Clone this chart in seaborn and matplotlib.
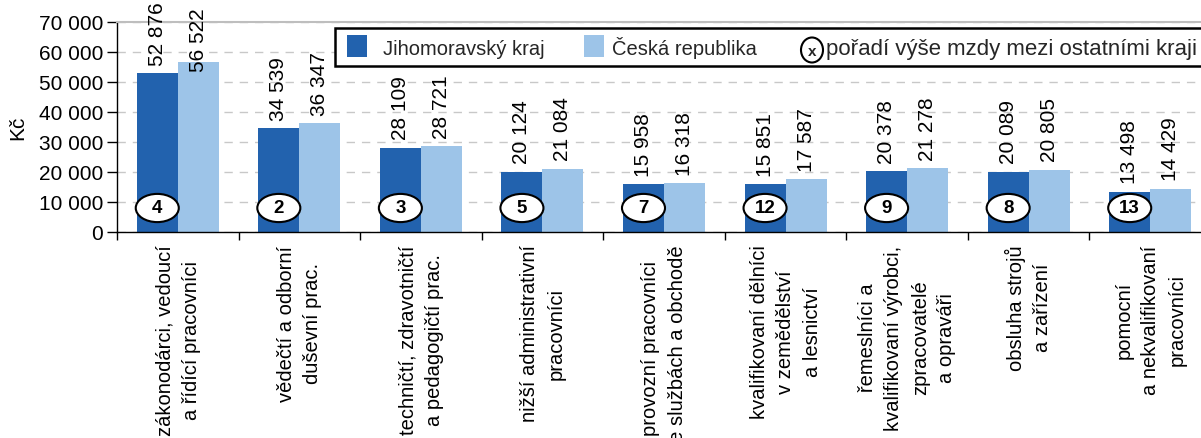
import matplotlib
matplotlib.use("Agg")
import matplotlib.pyplot as plt
from matplotlib.patches import Ellipse, Rectangle
import pandas as pd
import seaborn as sns

sns.set_theme(style="white")
plt.rcParams["font.family"] = ["Liberation Sans", "DejaVu Sans"]
plt.rcParams["ytick.labelsize"] = 15
plt.rcParams["xtick.labelsize"] = 14.5

# data
kategorie = [
    "zákonodárci, vedoucí\na řídící pracovníci",
    "vědečtí a odborní\nduševní prac.",
    "techničtí, zdravotničtí\na pedagogičtí prac.",
    "nižší administrativní\npracovníci",
    "provozní pracovníci\nve službách a obchodě",
    "kvalifikovaní dělníci\nv zemědělství\na lesnictví",
    "řemeslníci a\nkvalifikovaní výrobci,\nzpracovatelé\na opraváři",
    "obsluha strojů\na zařízení",
    "pomocní\na nekvalifikovaní\npracovníci",
]
jihomoravsky = [52876, 34539, 28109, 20124, 15958, 15851, 20378, 20089, 13498]
cr = [56522, 36347, 28721, 21084, 16318, 17587, 21278, 20805, 14429]
poradi = [4, 2, 3, 5, 7, 12, 9, 8, 13]
serie = ["Jihomoravský kraj", "Česká republika"]
legenda_poradi = "pořadí výše mzdy mezi ostatními kraji"
yticks = [0, 10000, 20000, 30000, 40000, 50000, 60000, 70000]

DARK = "#2262AE"
LIGHT = "#9DC4E8"
W, H = 1201, 439
LABEL_CAP = 53500  # labels of the tallest bars are pushed down to stay in view


def fmt(v):
    return f"{v:,}".replace(",", " ")


def px(x, y):
    # pixel position (from top-left) -> figure fraction
    return x / W, 1 - y / H


df = pd.DataFrame({
    "kategorie": kategorie * 2,
    "mzda": jihomoravsky + cr,
    "oblast": [serie[0]] * len(kategorie) + [serie[1]] * len(kategorie),
})

fig = plt.figure(figsize=(W / 100, H / 100), dpi=100)
ax = fig.add_axes([117 / W, 206 / H, 1094 / W, 210 / H])

sns.barplot(data=df, x="kategorie", y="mzda", hue="oblast", palette=[DARK, LIGHT],
            width=0.675, gap=0, saturation=1, errorbar=None, legend=False,
            linewidth=0, ax=ax)

ax.set_xlim(-0.5, len(kategorie) - 0.5)
ax.set_ylim(0, 70000)
ax.set_yticks(yticks)
ax.set_yticklabels([fmt(v) for v in yticks], fontsize=15)
ax.set_xlabel("")
ax.set_ylabel("Kč", fontsize=15, color="black")
ax.yaxis.set_label_coords(-0.082, 0.5)

ax.set_xticks(range(len(kategorie)))
ax.set_xticklabels(kategorie, rotation=90, fontsize=14.5)
ax.set_xticks([i - 0.5 for i in range(len(kategorie) + 1)], minor=True)
ax.tick_params(axis="x", which="major", length=0, pad=9, labelcolor="black")
ax.tick_params(axis="x", which="minor", length=6, width=1, color="black",
               direction="out", bottom=True)
ax.tick_params(axis="y", length=7, width=1, color="black", direction="out",
               left=True, pad=3, labelcolor="black")
plt.setp(ax.get_xticklabels(), linespacing=1.5)

ax.yaxis.grid(True, linestyle=(0, (6, 5)), color="#C8C8C8", linewidth=1)
ax.set_axisbelow(True)
for s in ["left", "bottom"]:
    ax.spines[s].set_color("black")
    ax.spines[s].set_linewidth(1)
for s in ["top", "right"]:
    ax.spines[s].set_color("#BEBEBE")
    ax.spines[s].set_linewidth(1.5)

# value labels
for cont in ax.containers:
    for b in cont:
        h = b.get_height()
        cx = b.get_x() + b.get_width() / 2
        if h < LABEL_CAP:
            ax.annotate(fmt(int(h)), (cx, h), xytext=(0, 6), textcoords="offset points",
                        rotation=90, ha="center", va="bottom", fontsize=15,
                        color="black")
        else:
            ax.annotate(fmt(int(h)), (cx, LABEL_CAP), rotation=90, ha="center",
                        va="bottom", fontsize=15, color="black",
                        annotation_clip=False)

# rank circles on the regional bars
for bar, r in zip(ax.containers[0], poradi):
    cx = bar.get_x() + bar.get_width() / 2
    ax.add_patch(Ellipse((cx, 8000), 0.354, 9400, facecolor="white",
                         edgecolor="black", linewidth=1.5, zorder=5))
    ax.text(cx, 8000, str(r), ha="center", va="center", fontsize=13.5,
            fontweight="bold", color="black", zorder=6)

# legend box drawn by hand (it runs past the right edge in the original)
x0, y0 = px(335, 67)
fig.add_artist(Rectangle((x0, y0), 880 / W, 38 / H, transform=fig.transFigure,
                         facecolor="white", edgecolor="black", linewidth=1.8,
                         zorder=10))
for (sx, col, tx, lab) in [(347, DARK, 383, serie[0]), (584, LIGHT, 612, serie[1])]:
    qx, qy = px(sx, 58)
    fig.add_artist(Rectangle((qx, qy), 20 / W, 22 / H, transform=fig.transFigure,
                             facecolor=col, edgecolor="none", zorder=11))
    fig.text(*px(tx, 55), lab, fontsize=14.5, va="baseline", ha="left", zorder=11)
fig.add_artist(Ellipse(px(812, 51), 22 / W, 25 / H, transform=fig.transFigure,
                       facecolor="white", edgecolor="black", linewidth=1.5, zorder=11))
fig.text(*px(812, 52), "x", fontsize=11, fontweight="bold", ha="center",
         va="center", zorder=12)
fig.text(*px(826, 55), legenda_poradi, fontsize=16, va="baseline", ha="left",
         zorder=11)

fig.savefig("out.png", dpi=100)
